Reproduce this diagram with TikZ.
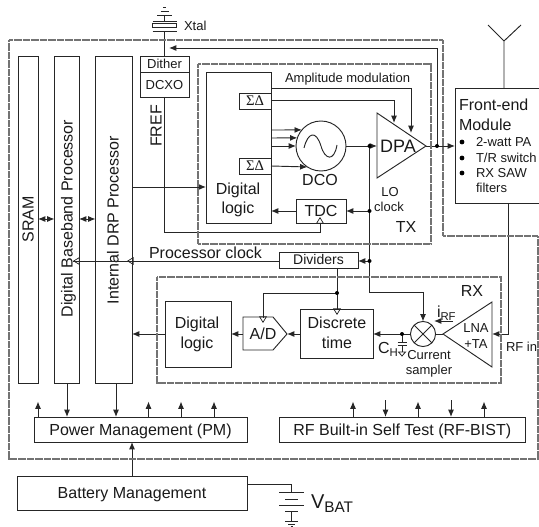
\documentclass[tikz,border=0pt]{standalone}
\usepackage{fontspec}
\setmainfont{Liberation Sans}
\newfontfamily\grserif{Liberation Serif}
\usetikzlibrary{arrows.meta}
\newcommand{\bx}[6][]{%
  \pgfmathsetmacro{\bcx}{(#3+#5)/2}\pgfmathsetmacro{\bcy}{(#4+#6)/2}%
  \pgfmathsetmacro{\bw}{(#5-#3)*0.75}\pgfmathsetmacro{\bh}{(#6-#4)*0.75}%
  \node[box,minimum width=\bw pt,minimum height=\bh pt,#1] (#2) at (\bcx,\bcy) {};}
\tikzset{
  box/.style={draw=black!85,line width=.7pt,inner sep=0pt,outer sep=0pt,fill=none},
  wire/.style={draw=black!85,line width=.7pt},
  arr/.style={wire,-{Latex[length=5.5pt,width=4.5pt]}},
  darr/.style={wire,{Latex[length=5.5pt,width=4.5pt]}-{Latex[length=5.5pt,width=4.5pt]}},
  oarr/.style={draw=black!85,line width=.55pt,-{Triangle[open,length=5pt,width=6pt]}},
  zone/.style={draw=black!55,line width=1.6pt,dash pattern=on .6pt off .25pt},
  jdot/.style={circle,fill=black,inner sep=0pt,minimum size=3pt},
  lb/.style={inner sep=0pt,outer sep=0pt,text depth=0pt,text=black!90},
  fa/.style={lb,font=\fontsize{9.75pt}{11pt}\selectfont,text height=7pt},
  fb/.style={lb,font=\fontsize{10.5pt}{12pt}\selectfont,text height=7.5pt},
  fc/.style={lb,font=\fontsize{12pt}{14pt}\selectfont,text height=8.6pt},
  fd/.style={lb,font=\fontsize{13.5pt}{15pt}\selectfont,text height=9.7pt},
  sd/.style={lb,font=\grserif\fontsize{11pt}{12pt}\selectfont,text height=7.5pt},
}
\begin{document}
\begin{tikzpicture}[x=.75pt,y=-.75pt]
\useasboundingbox (0,0) rectangle (539,527);
% boxes
\bx{sram}{18}{56}{38}{383}
\bx{bb}{54.5}{56}{79}{383}
\bx{drp}{95.5}{56}{132}{383}
\bx{dither}{140}{56}{189}{72}
\bx{dcxo}{140}{72}{189}{97}
\bx{dl}{206}{72}{271}{223}
\bx{sd1}{239}{93}{271}{109}
\bx{sd2}{239}{158}{271}{174}
\bx{tdc}{296}{199}{346}{223}
\bx{div}{279}{252}{358}{268}
\bx{fem}{455}{88}{539}{203}
\bx{dlrx}{165}{301}{231}{367}
\bx{dt}{300}{309}{373}{358}
\bx{pm}{34}{417}{247}{442}
\bx{bist}{279.5}{417}{525}{442}
\bx{bat}{17}{476.5}{247}{510}
\node[box,circle,minimum size=37.5pt] (dco) at (321,146) {};
\node[box,circle,minimum size=18.8pt] (mix) at (423,334) {};
\draw[wire] (mix.45) -- (mix.225) (mix.135) -- (mix.315);
\draw[wire] (304,148) .. controls (308,132) and (316,130) .. (321,146) .. controls (325,160) and (334,162) .. (337,145);
% triangles
\coordinate (dpatip) at (426,146);
\coordinate (dpain) at (377,146);
\coordinate (lnatip) at (443,334);
\coordinate (lnain) at (492,334);
\coordinate (adin) at (287,334);
\coordinate (adout) at (243,334);
\draw[wire,line join=miter] (377,113) -- (377,178) -- (dpatip) -- cycle;
\draw[wire] (lnatip) -- (492,302) -- (492,367) -- cycle;
\draw[wire] (243,317) -- (273,317) -- (adin) -- (273,350) -- (243,350) -- cycle;
% text in boxes
\node[fc,rotate=90] (tsram) at (28,219.5) {SRAM};
\node[fc,rotate=90] (tbb) at (67,218.5) {Digital Baseband Processor};
\node[fc,rotate=90] (tdrp) at (113,220) {Internal DRP Processor};
\node[fa] (tdither) at (164.5,63.5) {Dither};
\node[fa] (tdcxo) at (164.5,84.5) {DCXO};
\node[fc,rotate=90] (tfref) at (156,126) {FREF};
\node[sd] at (sd1) {ΣΔ};
\node[sd] at (sd2) {ΣΔ};
\node[fc] (tdl1) at (238,189) {Digital};
\node[fc] (tdl2) at (238,208) {logic};
\node[fc] (tdco) at (320,180) {DCO};
\node[fc] at (tdc) {TDC};
\node[fd] (tdpa) at (398,146) {DPA};
\node[fa] (tlo) at (390,192) {LO};
\node[fa] (tclk) at (389,207) {clock};
\node[fc] (ttx) at (406,227) {TX};
\node[fa,anchor=west] (tam) at (285,78) {Amplitude modulation};
\node[fa,anchor=west] (txtal) at (184,26) {Xtal};
\node[fc,anchor=west] (tpc) at (149,253) {Processor clock};
\node[fb] at (div) {Dividers};
\node[fc] (trx) at (472,291) {RX};
\node[fc] (td1) at (197,323) {Digital};
\node[fc] (td2) at (197,343) {logic};
\node[fc] (tad) at (263,334) {A/D};
\node[fc] (tdt1) at (337,323) {Discrete};
\node[fc] (tdt2) at (337,343) {time};
\node[fa] (tlna) at (476,328) {LNA};
\node[fa] (tta) at (476,344) {+TA};
\node[fa] (tcur) at (429,355) {Current};
\node[fa] (tsam) at (429,370) {sampler};
\node[fa,anchor=west] (trfin) at (506,347) {RF in};
\node[fc,anchor=west] (tch) at (378,348) {C\raisebox{-2pt}{\fontsize{8.5pt}{8.5pt}\selectfont H}};
\node[fc,anchor=west] (tirf) at (437,312) {i\raisebox{-2pt}{\fontsize{8.5pt}{8.5pt}\selectfont RF}};
\node[fc,anchor=west] (tfe1) at (459,105) {Front-end};
\node[fc,anchor=west] (tfe2) at (459,125) {Module};
\foreach \yy/\nm in {142/a,158/b,173/c}{\node[jdot,minimum size=3.6pt] (bul\nm) at (462,\yy) {};}
\node[fa,anchor=west] (tb1) at (476,142) {2-watt PA};
\node[fa,anchor=west] (tb2) at (476,158) {T/R switch};
\node[fa,anchor=west] (tb3) at (476,173) {RX SAW};
\node[fa,anchor=west] (tb4) at (476,188) {filters};
\node[fc] at (pm) {Power Management (PM)};
\node[fc] at (bist) {RF Built-in Self Test (RF-BIST)};
\node[fc] at (bat) {Battery Management};
\node[lb,anchor=west,font=\fontsize{15pt}{16pt}\selectfont,text height=10.8pt] (tvbat) at (311,501) {V\raisebox{-3.5pt}{\fontsize{11.5pt}{12pt}\selectfont BAT}};
% crystal
\coordinate (xb) at (164.5,31);
\coordinate (xt) at (164.5,21);
\coordinate (xg) at (164.5,15);
\draw[wire] (dither.north -| xb) -- (xb);
\draw[wire] (152.5,31) -- (176.5,31) (152.5,21) -- (176.5,21);
\draw[wire] (152.5,23.5) rectangle (176.5,27.5);
\draw[wire] (xt) -- (xg);
\draw[wire] (157,15) -- (172,15) (160.5,11) -- (168.5,11) (163,7) -- (166,7);
% FREF
\coordinate (fc1) at (164.5,232);
\coordinate (fc2) at (320,232);
\draw[wire] (dcxo.south -| fc1) -- (fc1) -- (fc2) -- (fc2 |- tdc.south);
\draw[oarr] (fc2 |- tdc.south) -- ++(0,-6);
\coordinate (drpdl) at (132,187);
\draw[arr] (drpdl) -- (dl.west |- drpdl);
% into DCO
\draw[arr] (271,130) -- (dco.140);
\draw[arr] (271,138) -- (dco.161);
\draw[arr] (271,146) -- (dco.180);
\draw[arr] (sd2.east) -- (dco.237);
\coordinate (am1) at (411,88.5);
\coordinate (am2) at (394,100);
\draw[arr] (271,88.5) -- (am1) -- (411,133);
\draw[arr] (sd1.east |- am2) -- (am2) -- (394,123);
% DCO to DPA, feedback
\coordinate (j1) at (369.5,146);
\coordinate (j2) at (369.5,211);
\coordinate (j3) at (369.5,261);
\coordinate (j4) at (369.5,292);
\coordinate (j5) at (423,292);
\draw[arr] (dco.east) -- (dpain);
\draw[wire] (j1) -- (j4) -- (j5);
\draw[arr] (j5) -- (mix.north);
\draw[arr] (j2) -- (tdc.east |- j2);
\draw[arr] (j3) -- (div.east |- j3);
\draw[arr] (tdc.west) -- (dl.east |- tdc.west);
\node[jdot] at (j1) {};
\node[jdot] at (j2) {};
\node[jdot] at (j3) {};
% DPA to FEM, feedback
\coordinate (o1) at (437,146);
\coordinate (o2) at (437,48);
\coordinate (o3) at (169,48);
\draw[arr] (dpatip) -- (fem.west |- dpatip);
\draw[arr] (o1) -- (o2) -- (o3);
\node[jdot] at (o1) {};
% antenna
\coordinate (ant) at (504,41);
\draw[wire] (fem.north -| ant) -- (ant) -- (488,25) (ant) -- (521,25);
% FEM to LNA
\coordinate (r1) at (508.7,334);
\draw[wire] (fem.south -| r1) -- (r1);
\draw[arr] (r1) -- (lnain);
% processor clock
\coordinate (pc) at (73,261);
\draw[wire] (div.west |- pc) -- (pc);
\draw[oarr] (132,261) -- (127,261);
\draw[oarr] (79,261) -- (73,261);
% dividers to rx
\coordinate (dv) at (337,293);
\coordinate (dv2) at (263,293);
\draw[wire] (dv |- div.south) -- (dv |- dt.north);
\draw[wire] (dv) -- (dv2) -- (263,317);
\draw[oarr] (dv |- dt.north) -- ++(0,6);
\draw[oarr] (263,317) -- ++(0,6);
\node[jdot] at (dv) {};
% RX chain
\draw[wire] (lnatip) -- (mix.east);
\draw[arr] (mix.west) -- (dt.east |- mix.west);
\draw[arr] (dt.west |- adin) -- (adin);
\draw[arr] (adout) -- (dlrx.east |- adout);
\draw[arr] (dlrx.west |- adout) -- (drp.east |- adout);
% hold cap
\coordinate (cj) at (402,334);
\draw[wire] (cj) -- (402,342) (402,345) -- (402,352);
\draw[wire] (397.5,342) -- (407,342) (397.5,345) -- (407,345);
\draw[draw=black!85,line width=.6pt] (398.5,352) -- (405.5,352) -- (402,356) -- cycle;
\node[jdot] at (cj) {};
% iRF
\coordinate (ir1) at (453,321);
\coordinate (ir2) at (434,321);
\draw[arr] (ir1) -- (ir2);
% processors
\coordinate (sb) at (0,219);
\draw[darr] (sram.east |- sb) -- (bb.west |- sb);
\draw[darr] (bb.east |- sb) -- (drp.west |- sb);
% PM arrows
\draw[arr] (67,383) -- (67,417);
\draw[arr] (116,383) -- (116,417);
\foreach \xx in {38,148.5,181,214}{\draw[arr] (\xx,417) -- (\xx,401.5);}
\foreach \xx in {353,418,484}{\draw[arr] (\xx,417) -- (\xx,401.5);}
\foreach \xx in {385.5,451}{\draw[arr] (\xx,400) -- (\xx,417);}
\draw[arr] (132,476.5) -- (132,442);
% battery
\coordinate (v1) at (291.5,484.5);
\coordinate (v2) at (291.5,492.7);
\coordinate (v3) at (291.5,511.6);
\coordinate (v4) at (291.5,521);
\draw[wire] (bat.east |- v1) -- (v1) -- (v2);
\draw[wire] (279,492.7) -- (304,492.7) (285,499.5) -- (298,499.5) (279,505.7) -- (304,505.7) (285,511.6) -- (298,511.6);
\draw[wire] (v3) -- (v4);
\draw[wire] (285,521) -- (298,521) (288,524) -- (295,524) (290.5,526.5) -- (292.5,526.5);
% dashed zones
\draw[zone] (198,64) rectangle (431,244);
\draw[zone] (157,277) rectangle (501,383);
\draw[zone] (9,40) -- (443,40) -- (443,236) -- (538,236) -- (538,459) -- (9,459) -- cycle;
\end{tikzpicture}
\end{document}
